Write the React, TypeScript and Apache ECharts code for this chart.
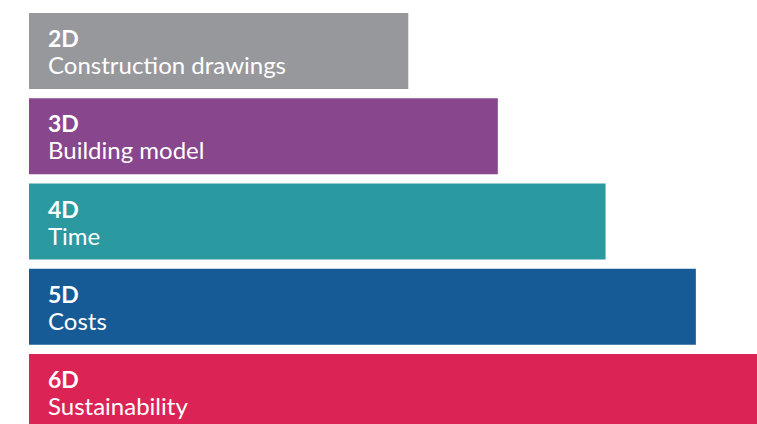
import React, { useEffect, useRef } from "react";
import * as echarts from "echarts";

const categories = ["2D", "3D", "4D", "5D", "6D"];
const subtitles = ["Construction drawings", "Building model", "Time", "Costs", "Sustainability"];
const values = [52.1, 64.4, 79.2, 91.6, 100];
const palette = ["#97989C", "#88468C", "#2B9AA0", "#175B96", "#DB2455"];

export default function App() {
  const ref = useRef<HTMLDivElement>(null);
  useEffect(() => {
    if (!ref.current) return;
    const chart = echarts.init(ref.current, undefined, { renderer: "svg" });
    chart.setOption({
      animation: false,
      grid: { left: 29, right: 0, top: 8.375, height: 426.25, containLabel: false },
      xAxis: { type: "value", min: 0, max: 100, show: false },
      yAxis: { type: "category", data: categories, inverse: true, show: false },
      series: [
        {
          type: "bar",
          barWidth: 76,
          data: values.map((v, i) => ({
            value: v,
            itemStyle: { color: palette[i] },
          })),
          label: {
            show: true,
            position: "insideLeft",
            distance: 19,
            formatter: (p: any) =>
              `{a|${categories[p.dataIndex]}}\n{b|${subtitles[p.dataIndex]}}`,
            rich: {
              a: {
                fontFamily: "Lato",
                fontWeight: "bold",
                fontSize: 23,
                lineHeight: 27,
                color: "#ffffff",
              },
              b: {
                fontFamily: "Lato",
                fontSize: 24,
                lineHeight: 26,
                color: "#ffffff",
              },
            },
          },
        },
      ],
    });
    return () => chart.dispose();
  }, []);
  return (
    <div
      style={{
        position: "fixed",
        left: 0,
        top: 0,
        width: 757,
        height: 424,
        overflow: "hidden",
        background: "#ffffff",
      }}
    >
      <div ref={ref} style={{ width: 757, height: 440 }} />
    </div>
  );
}
